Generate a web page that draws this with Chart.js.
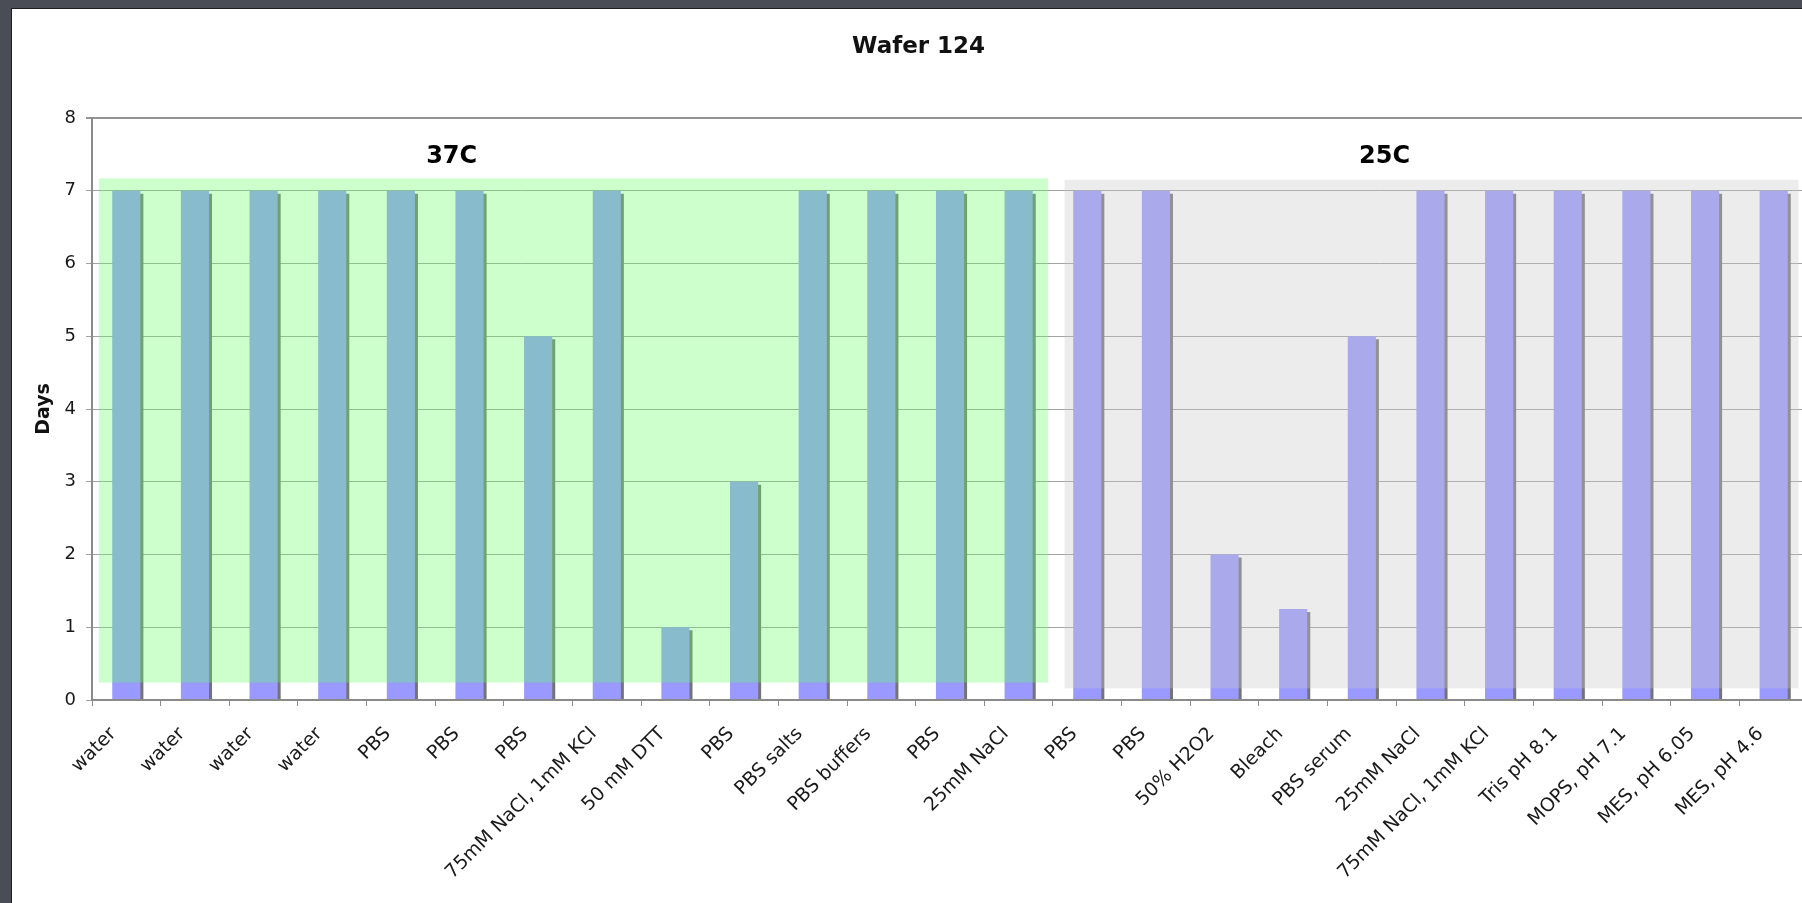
<!DOCTYPE html>
<html>
<head>
<meta charset="utf-8">
<script src="https://cdn.jsdelivr.net/npm/chart.js@4.4.1/dist/chart.umd.min.js"></script>
<style>
  html, body { margin: 0; padding: 0; width: 1802px; height: 903px; overflow: hidden; background: #4a4d56; }
  #panel { position: absolute; left: 11px; top: 8px; width: 1800px; height: 900px; background: #ffffff; border-top: 1px solid #1e1f22; border-left: 1px solid #1e1f22; box-sizing: border-box; }
  #c { position: absolute; left: 11px; top: 8px; }
</style>
</head>
<body>
<div id="panel"></div>
<canvas id="c" width="1797" height="895"></canvas>
<script>
// ---- data ----
const chartTitle = 'Wafer 124';
const yAxisTitle = 'Days';
const categories = [
  'water', 'water', 'water', 'water', 'PBS', 'PBS', 'PBS', '75mM NaCl, 1mM KCl',
  '50 mM DTT', 'PBS', 'PBS salts', 'PBS buffers', 'PBS', '25mM NaCl',
  'PBS', 'PBS', '50% H2O2', 'Bleach', 'PBS serum', '25mM NaCl', '75mM NaCl, 1mM KCl',
  'Tris pH 8.1', 'MOPS, pH 7.1', 'MES, pH 6.05', 'MES, pH 4.6'
];
const days = [
  7, 7, 7, 7, 7, 7, 5, 7, 1, 3, 7, 7, 7, 7,
  7, 7, 2, 1.25, 5, 7, 7, 7, 7, 7, 7
];
const yTicks = [0, 1, 2, 3, 4, 5, 6, 7, 8];
// temperature groups: label, category span (index units), value span
const groupNames = ['37C', '25C'];
const groupFromIndex = [-0.40, 13.67];
const groupToIndex = [13.43, 24.36];
const groupFromValue = [0.24, 0.16];
const groupToValue = [7.17, 7.15];
const groupLabelIndex = [4.74, 18.33];
const groupLabelValue = [7.47, 7.47];
const groupFill = ['rgba(102,255,102,0.333)', 'rgba(200,200,200,0.35)'];

const FONT = "'DejaVu Sans', Verdana, sans-serif";

const shadowPlugin = {
  id: 'barShadow',
  beforeDatasetsDraw(chart) {
    const ctx = chart.ctx, a = chart.chartArea;
    const meta = chart.getDatasetMeta(0);
    ctx.save();
    ctx.beginPath();
    ctx.rect(a.left, a.top, a.right - a.left, a.bottom - a.top);
    ctx.clip();
    ctx.fillStyle = '#747474';
    meta.data.forEach(el => {
      const p = el.getProps(['x', 'y', 'base', 'width'], true);
      ctx.fillRect(p.x - p.width / 2 + 3, p.y + 3, p.width, p.base - p.y - 3);
    });
    ctx.restore();
  }
};

const groupPlugin = {
  id: 'groups',
  afterDatasetsDraw(chart) {
    const ctx = chart.ctx, xs = chart.scales.x, ys = chart.scales.y;
    const w = xs.getPixelForValue(1) - xs.getPixelForValue(0);
    const px = v => xs.getPixelForValue(0) + v * w;
    ctx.save();
    groupNames.forEach((g, i) => {
      const x0 = px(groupFromIndex[i]), x1 = px(groupToIndex[i]);
      const y0 = ys.getPixelForValue(groupToValue[i]), y1 = ys.getPixelForValue(groupFromValue[i]);
      ctx.fillStyle = groupFill[i];
      ctx.fillRect(x0, y0, x1 - x0, y1 - y0);
    });
    ctx.fillStyle = '#000';
    ctx.font = 'bold 24px ' + FONT;
    ctx.textAlign = 'center';
    ctx.textBaseline = 'middle';
    groupNames.forEach((g, i) => {
      ctx.fillText(g, px(groupLabelIndex[i]), ys.getPixelForValue(groupLabelValue[i]));
    });
    ctx.restore();
  }
};

const titlePlugin = {
  id: 'topTitle',
  afterDraw(chart) {
    const ctx = chart.ctx;
    ctx.save();
    ctx.fillStyle = '#111';
    ctx.font = 'bold 23px ' + FONT;
    ctx.textAlign = 'center';
    ctx.textBaseline = 'middle';
    ctx.fillText(chartTitle, 907.6, 39);
    ctx.restore();
  }
};

new Chart(document.getElementById('c'), {
  type: 'bar',
  data: {
    labels: categories,
    datasets: [{
      data: days,
      backgroundColor: '#9999ff',
      borderWidth: 0,
      categoryPercentage: 1.0,
      barPercentage: 0.41
    }]
  },
  options: {
    responsive: false,
    animation: false,
    devicePixelRatio: 1,
    layout: { padding: { top: 110, left: 0, right: 0, bottom: 0 } },
    plugins: { legend: { display: false }, title: { display: false }, tooltip: { enabled: false } },
    scales: {
      x: {
        offset: true,
        grid: { display: true, drawOnChartArea: false, drawTicks: true, tickLength: 6, color: '#8c8c8c', lineWidth: 1 },
        border: { display: true, color: '#8a8a8a', width: 2, z: 1 },
        ticks: {
          autoSkip: false, maxRotation: 45, minRotation: 45, padding: 17, labelOffset: -13,
          color: '#1a1a1a', font: { family: FONT, size: 19 }
        },
        afterFit(s) { s.height = 203; s.paddingLeft = 0; s.paddingRight = 0; }
      },
      y: {
        min: 0, max: 8,
        afterBuildTicks(s) { s.ticks = yTicks.map(v => ({ value: v })); },
        grid: {
          drawTicks: true, tickLength: 6,
          color: c => (c.tick && c.tick.value === 8) ? '#939393' : '#a2a2a2',
          lineWidth: c => (c.tick && c.tick.value === 8) ? 2 : 1
        },
        border: { display: true, color: '#8a8a8a', width: 2, z: 1 },
        ticks: { padding: 10, color: '#1a1a1a', font: { family: FONT, size: 18 } },
        title: { display: true, text: yAxisTitle, color: '#111', font: { family: FONT, size: 19, weight: 'bold' }, padding: { top: 22, bottom: 0 } },
        afterFit(s) { s.width = 81; s.paddingTop = 0; s.paddingBottom = 0; }
      }
    }
  },
  plugins: [shadowPlugin, groupPlugin, titlePlugin]
});
</script>
</body>
</html>
